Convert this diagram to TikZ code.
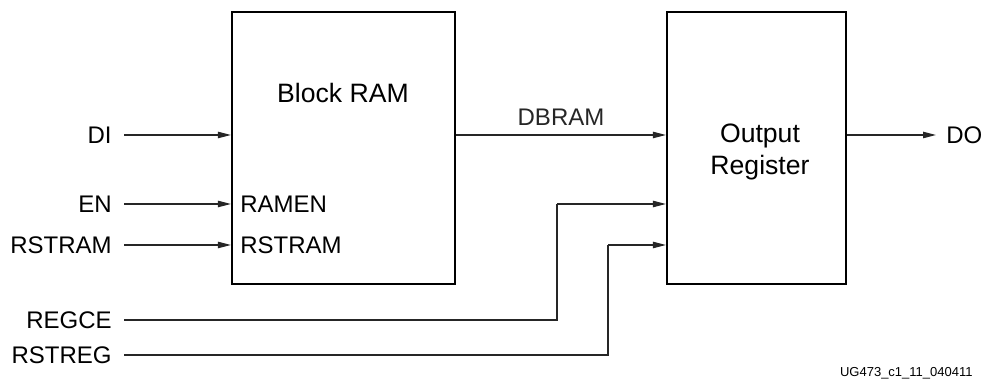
\documentclass[tikz,border=0pt]{standalone}
\usepackage{fontspec}
\setmainfont{Liberation Sans}
\usetikzlibrary{positioning,arrows.meta}

\begin{document}
\begin{tikzpicture}[
  x=0.5pt, y=-0.5pt,
  font=\fontsize{12}{14}\selectfont,
  >={Triangle[length=6.5pt,width=3.2pt]},
  blk/.style={draw, line width=1.1pt, inner sep=0pt},
  title/.style={font=\fontsize{13.3}{16}\selectfont, align=center},
  sig/.style={anchor=east, inner xsep=6pt, inner ysep=0pt},
  port/.style={anchor=west, inner xsep=4.5pt, inner ysep=0pt},
  arr/.style={->, line width=0.6pt, black!85},
  wire/.style={line width=0.6pt, black!85},
]
\useasboundingbox (0,0) rectangle (987,383);

% ---------- blocks ----------
\node[blk, minimum width=111.5pt, minimum height=136pt] (bram) at (343.5,148) {};
\node[title] at (343,93) (bramlbl) {Block RAM};
\node[blk, minimum width=89.5pt, minimum height=136pt] (oreg) at (756.5,148) {};
\node[title] at (760,152) (oreglbl) {Output\\Register};

% ---------- inputs to block RAM ----------
\node[sig] (di) at (124,135) {DI};
\node[sig] (en) at (124,204) {EN};
\node[sig] (rstram) at (124,245) {RSTRAM};

\draw[arr] (di.east) -- (di.east -| bram.west);
\draw[arr] (en.east) -- (en.east -| bram.west);
\draw[arr] (rstram.east) -- (rstram.east -| bram.west);

\node[port] (ramen) at (en.east -| bram.west) {RAMEN};
\node[port] (rstramp) at (rstram.east -| bram.west) {RSTRAM};

% ---------- data path ----------
\draw[arr] (di.east -| bram.east) -- (di.east -| oreg.west)
  node[midway, above=1pt] (dbram) {DBRAM};

\node[anchor=west, inner xsep=5pt] (do) at (936,135) {DO};
\draw[arr] (di.east -| oreg.east) -- (do.west);

% ---------- register controls ----------
\node[sig] (regce) at (124,320) {REGCE};
\node[sig] (rstreg) at (124,355) {RSTREG};
\coordinate (ceturn) at (557,204);
\coordinate (rstturn) at (608,245);

\draw[wire] (regce.east) -| (ceturn);
\draw[arr] (ceturn) -- (ceturn -| oreg.west);
\draw[wire] (rstreg.east) -| (rstturn);
\draw[arr] (rstturn) -- (rstturn -| oreg.west);

% ---------- figure id ----------
\node[anchor=east, font=\fontsize{6.5}{8}\selectfont, inner sep=0pt] (figid) at (973,373) {UG473\_c1\_11\_040411};
\end{tikzpicture}
\end{document}
